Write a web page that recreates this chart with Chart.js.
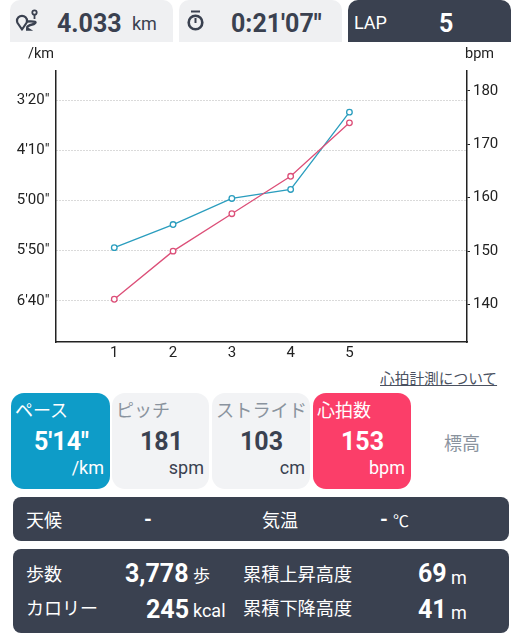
<!DOCTYPE html>
<html lang="ja"><head><meta charset="utf-8">
<script src="https://cdn.jsdelivr.net/npm/chart.js@4"></script>
<style>
html,body{margin:0;padding:0;background:#fff;width:522px;height:640px;overflow:hidden}
body{position:relative;font-family:Roboto,"Noto Sans CJK JP",sans-serif;color:#3a4150}
.t{position:absolute;white-space:nowrap;line-height:1}
.b{font-weight:700}
.box{position:absolute}
canvas{position:absolute;left:0;top:0}
.w{color:#fff}
.g{color:#8a939e}
</style></head><body>
<div class="box" style="left:10px;top:0;width:163px;height:42px;background:#eff0f2;border-radius:10px 10px 0 0"></div>
<div class="box" style="left:179px;top:0;width:163px;height:42px;background:#eff0f2;border-radius:10px 10px 0 0"></div>
<div class="box" style="left:348px;top:0;width:163px;height:42px;background:#3a4150;border-radius:10px 10px 0 0"></div>
<svg class="box" style="left:10px;top:5px" width="40" height="32" viewBox="0 0 40 32" fill="none" stroke="#3a4150" stroke-width="2.2">
<path d="M12 24.5 L8.6 19.5 A5 5 0 1 1 15.4 19.5 Z" stroke-linejoin="round"/>
<circle cx="24.5" cy="7.5" r="2.2" stroke-width="1.8"/>
<path d="M24.5 10v4" stroke-width="1.8"/>
<path d="M17 16.5 C 26 16 27 17 24 19 C 18 20.5 15 22 19 24.5 L 16 24.5" stroke-width="2.4"/>
</svg>
<div class="t b" style="left:57px;top:11px;font-size:25px">4.033</div>
<div class="t" style="left:132px;top:15px;font-size:18px">km</div>
<svg class="box" style="left:180px;top:5px" width="40" height="32" viewBox="0 0 40 32" fill="none" stroke="#3a4150">
<circle cx="15.5" cy="17.5" r="6.8" stroke-width="2.6"/><path d="M11 6.5h9" stroke-width="2"/><path d="M15.5 13v5" stroke-width="2"/>
</svg>
<div class="t b" style="left:231px;top:11px;font-size:25px">0:21'07"</div>
<div class="t w" style="left:354px;top:14px;font-size:18px">LAP</div>
<div class="t b w" style="left:439px;top:11px;font-size:25px">5</div>

<canvas id="c" width="522" height="370" style="width:522px;height:370px"></canvas>
<div class="t" style="left:28px;top:47px;font-size:14.5px;color:#222">/km</div>
<div class="t" style="left:465px;top:47px;font-size:14.5px;color:#222">bpm</div>

<div class="t" style="left:380px;top:372px;font-size:14.7px;color:#4a5160;text-decoration:underline">心拍計測について</div>

<div class="box" style="left:11px;top:393px;width:99px;height:96px;background:#0e9cc8;border-radius:13px"></div>
<div class="box" style="left:112px;top:393px;width:97px;height:96px;background:#f2f3f5;border-radius:13px"></div>
<div class="box" style="left:212px;top:393px;width:98px;height:96px;background:#f2f3f5;border-radius:13px"></div>
<div class="box" style="left:313px;top:393px;width:98px;height:96px;background:#fb3e69;border-radius:13px"></div>
<div class="t w" style="left:15px;top:402px;font-size:18px">ペース</div>
<div class="t g" style="left:116px;top:402px;font-size:18px">ピッチ</div>
<div class="t g" style="left:216px;top:402px;font-size:18.2px">ストライド</div>
<div class="t w" style="left:317px;top:402px;font-size:18px">心拍数</div>
<div class="t b w" style="left:34px;top:429px;font-size:25px">5'14"</div>
<div class="t b" style="left:140px;top:429px;font-size:25px">181</div>
<div class="t b" style="left:240px;top:429px;font-size:25px">103</div>
<div class="t b w" style="left:341px;top:429px;font-size:25px">153</div>
<div class="t w" style="right:418px;top:459px;font-size:18px">/km</div>
<div class="t" style="right:318px;top:459px;font-size:18px">spm</div>
<div class="t" style="right:217px;top:459px;font-size:18px">cm</div>
<div class="t w" style="right:117px;top:459px;font-size:18px">bpm</div>
<div class="t g" style="left:444px;top:435px;font-size:18px">標高</div>

<div class="box" style="left:13px;top:497px;width:496px;height:44px;background:#3a4150;border-radius:8px"></div>
<div class="box" style="left:13px;top:549px;width:496px;height:84px;background:#3a4150;border-radius:8px"></div>
<div class="t w" style="left:26px;top:512px;font-size:18px">天候</div>
<div class="t b w" style="left:144px;top:509px;font-size:20px">-</div>
<div class="t w" style="left:262px;top:512px;font-size:18px">気温</div>
<div class="t b w" style="left:380px;top:509px;font-size:20px">-</div>
<div class="t w" style="left:393px;top:514px;font-size:16px">℃</div>

<div class="t w" style="left:26px;top:566px;font-size:18px">歩数</div>
<div class="t b w" style="left:125px;top:561px;font-size:25px">3,778</div>
<div class="t w" style="left:193px;top:568px;font-size:17px">歩</div>
<div class="t w" style="left:243px;top:566px;font-size:18.2px">累積上昇高度</div>
<div class="t b w" style="left:418px;top:561px;font-size:25px">69</div>
<div class="t w" style="left:451px;top:569px;font-size:18px">m</div>
<div class="t w" style="left:26px;top:600px;font-size:18px">カロリー</div>
<div class="t b w" style="left:146px;top:597px;font-size:25px">245</div>
<div class="t w" style="left:193px;top:602px;font-size:18px">kcal</div>
<div class="t w" style="left:243px;top:600px;font-size:18.2px">累積下降高度</div>
<div class="t b w" style="left:418px;top:597px;font-size:25px">41</div>
<div class="t w" style="left:451px;top:604px;font-size:18px">m</div>

<script>
const laps = [1, 2, 3, 4, 5];
const paceSeconds = [347, 324, 298, 289, 212];
const heartRate = [141, 150, 157, 164, 174];
const paceTicks = [200, 250, 300, 350, 400];
const bpmTicks = [140, 150, 160, 170, 180];
const xpairs = (ys) => laps.map((x, i) => ({x, y: ys[i]}));
const fmtPace = (s) => Math.floor(s / 60) + "'" + String(s % 60).padStart(2, '0') + '"';
const tickFont = {family: 'Roboto', size: 15};
const ds = (data, color, axis) => ({data: xpairs(data), yAxisID: axis, borderColor: color, backgroundColor: '#fff',
  borderWidth: 1.3, pointRadius: 2.8, pointBorderWidth: 1.3, tension: 0, clip: false});
new Chart(document.getElementById('c'), {
  type: 'line',
  data: {datasets: [ds(heartRate, '#dc4f78', 'yR'), ds(paceSeconds, '#2a9dbe', 'yL')]},
  options: {
    responsive: false, animation: false, devicePixelRatio: 1,
    layout: {padding: {top: 71, left: 0, right: 0, bottom: 0}},
    plugins: {legend: {display: false}, tooltip: {enabled: false}},
    scales: {
      x: {type: 'linear', min: 0, max: 7,
        afterBuildTicks: a => { a.ticks = laps.map(v => ({value: v})); },
        afterFit: a => { a.height = 28; },
        ticks: {color: '#222', font: tickFont, padding: 2, maxRotation: 0},
        grid: {display: false, drawTicks: false},
        border: {color: '#222', width: 1.5}},
      yL: {position: 'left', reverse: true, min: 171, max: 441,
        afterBuildTicks: a => { a.ticks = paceTicks.map(v => ({value: v})); },
        afterFit: a => { a.width = 55.5; },
        ticks: {color: '#222', font: tickFont, padding: 6, callback: v => fmtPace(v)},
        grid: {color: '#b5b5b5', drawTicks: false, lineWidth: 1},
        border: {color: '#222', width: 1.5, dash: [1, 2]}},
      yR: {position: 'right', min: 133, max: 183.7,
        afterBuildTicks: a => { a.ticks = bpmTicks.map(v => ({value: v})); },
        afterFit: a => { a.width = 55; },
        ticks: {color: '#222', font: tickFont, padding: 3},
        grid: {drawOnChartArea: false, drawTicks: true, tickLength: 3, color: '#222'},
        border: {color: '#222', width: 1.5}}
    }
  }
});
</script>
</body></html>
